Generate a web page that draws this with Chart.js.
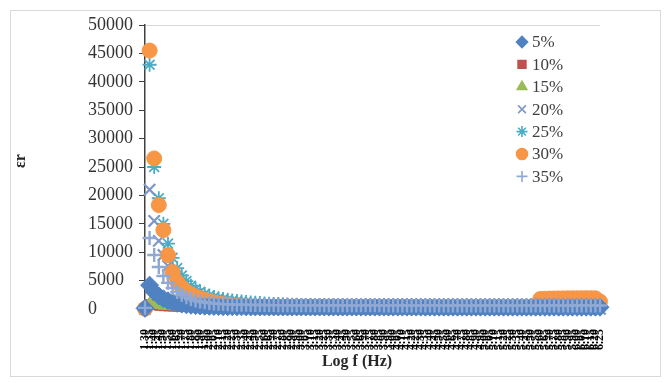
<!DOCTYPE html>
<html>
<head>
<meta charset="utf-8">
<script src="https://cdn.jsdelivr.net/npm/chart.js@4.4.1/dist/chart.umd.min.js"></script>
<style>
  html, body { margin: 0; padding: 0; background: #fff; }
  #wrap { position: relative; width: 670px; height: 383px; }
  #frame {
    position: absolute; left: 10px; top: 10px; width: 651px; height: 367px;
    border: 1px solid #d9d9d9; box-sizing: border-box; pointer-events: none;
  }
</style>
</head>
<body>
<div id="wrap">
  <canvas id="chart"></canvas>
  <div id="frame"></div>
</div>
<script>
// log f (Hz) categories
const freqLabels = [
  '1.30','1.35','1.40','1.45','1.50','1.55','1.60','1.65','1.70','1.75',
  '1.80','1.85','1.90','1.95','2.00','2.05','2.10','2.15','2.20','2.25',
  '2.30','2.35','2.40','2.45','2.50','2.55','2.60','2.65','2.70','2.75',
  '2.80','2.85','2.90','2.95','3.00','3.05','3.10','3.15','3.20','3.25',
  '3.30','3.35','3.40','3.45','3.50','3.55','3.60','3.65','3.70','3.75',
  '3.80','3.85','3.90','3.95','4.00','4.05','4.10','4.15','4.20','4.25',
  '4.30','4.35','4.40','4.45','4.50','4.55','4.60','4.65','4.70','4.75',
  '4.80','4.85','4.90','4.95','5.00','5.05','5.10','5.15','5.20','5.25',
  '5.30','5.35','5.40','5.45','5.50','5.55','5.60','5.65','5.70','5.75',
  '5.80','5.85','5.90','5.95','6.00','6.05','6.10','6.15','6.20','6.25'
];

// dielectric constant per doping level
const eps5 = [
  120, 4200, 3000, 2300, 1800, 1450, 1200, 1000, 860, 750,
  660, 590, 540, 500, 470, 445, 425, 410, 400, 390,
  385, 380, 375, 370, 368, 365, 362, 360, 358, 356,
  355, 353, 352, 350, 349, 348, 347, 346, 345, 344,
  343, 342, 341, 340, 340, 339, 338, 338, 337, 336,
  336, 335, 335, 334, 334, 333, 333, 332, 332, 331,
  331, 330, 330, 330, 329, 329, 328, 328, 328, 327,
  327, 327, 326, 326, 326, 325, 325, 325, 324, 324,
  324, 323, 323, 323, 322, 322, 322, 321, 321, 321,
  320, 320, 320, 319, 319, 319, 318, 318, 318, 317
];
const eps10 = [
  80, 900, 650, 520, 450, 410, 385, 370, 360, 352,
  347, 343, 340, 338, 336, 334, 333, 332, 331, 330,
  330, 329, 329, 328, 328, 327, 327, 326, 326, 325,
  325, 324, 324, 323, 323, 322, 322, 321, 321, 320,
  320, 320, 319, 319, 319, 318, 318, 318, 317, 317,
  317, 316, 316, 316, 315, 315, 315, 314, 314, 314,
  313, 313, 313, 312, 312, 312, 311, 311, 311, 310,
  310, 310, 309, 309, 309, 308, 308, 308, 307, 307,
  307, 306, 306, 306, 305, 305, 305, 304, 304, 304,
  303, 303, 303, 302, 302, 302, 301, 301, 301, 300
];
const eps15 = [
  60, 1100, 780, 600, 500, 440, 400, 375, 358, 346,
  338, 332, 327, 323, 320, 318, 316, 314, 312, 311,
  310, 310, 309, 309, 308, 308, 307, 307, 306, 306,
  306, 305, 305, 305, 304, 304, 304, 303, 303, 303,
  302, 302, 302, 301, 301, 301, 300, 300, 300, 299,
  299, 299, 298, 298, 298, 297, 297, 297, 296, 296,
  296, 295, 295, 295, 294, 294, 294, 293, 293, 293,
  292, 292, 292, 291, 291, 291, 290, 290, 290, 290,
  289, 289, 289, 288, 288, 288, 287, 287, 287, 286,
  286, 286, 285, 285, 285, 284, 284, 284, 283, 283
];
const eps20 = [
  0, 21000, 15500, 12000, 9500, 7600, 6200, 5100, 4200, 3500,
  2900, 2400, 2000, 1650, 1350, 1100, 900, 740, 610, 500,
  410, 340, 280, 230, 190, 160, 135, 115, 100, 90,
  80, 70, 65, 60, 55, 50, 48, 46, 44, 42,
  41, 40, 39, 38, 37, 36, 36, 35, 35, 34,
  34, 33, 33, 32, 32, 31, 31, 30, 30, 30,
  29, 29, 28, 28, 28, 27, 27, 27, 26, 26,
  26, 25, 25, 25, 24, 24, 24, 23, 23, 23,
  22, 22, 22, 21, 21, 21, 20, 20, 20, 20,
  19, 19, 19, 18, 18, 18, 17, 17, 17, 16
];
const eps25 = [
  80, 43000, 25000, 19500, 15000, 11500, 9000, 7200, 5900, 4900,
  4100, 3500, 3000, 2650, 2350, 2100, 1900, 1750, 1620, 1500,
  1400, 1310, 1230, 1160, 1100, 1040, 990, 940, 900, 860,
  830, 800, 770, 745, 720, 700, 680, 660, 645, 630,
  615, 600, 590, 580, 570, 560, 550, 540, 530, 520,
  515, 510, 505, 500, 495, 490, 485, 480, 478, 475,
  472, 470, 468, 465, 462, 460, 458, 455, 452, 450,
  448, 446, 444, 442, 440, 438, 436, 434, 432, 430,
  428, 426, 424, 422, 420, 418, 416, 414, 412, 410,
  408, 406, 404, 402, 400, 398, 396, 394, 392, 390
];
const eps30 = [
  60, 45500, 26500, 18300, 13900, 9500, 6500, 4800, 3800, 3100,
  2600, 2200, 1900, 1600, 1350, 1150, 980, 850, 750, 660,
  590, 530, 480, 440, 410, 390, 375, 365, 358, 352,
  350, 349, 348, 347, 346, 345, 344, 343, 342, 341,
  340, 340, 339, 338, 338, 337, 336, 336, 335, 335,
  334, 334, 333, 333, 332, 332, 331, 331, 330, 330,
  330, 329, 329, 328, 328, 328, 327, 327, 327, 326,
  326, 326, 325, 325, 325, 324, 324, 324, 323, 323,
  323, 323, 322, 322, 322, 330, 1750, 1800, 1830, 1850,
  1860, 1870, 1880, 1880, 1890, 1890, 1900, 1900, 1880, 1300
];
const eps35 = [
  200, 12500, 9500, 7400, 5800, 4600, 3700, 3000, 2450, 2050,
  1750, 1500, 1320, 1180, 1070, 980, 910, 860, 820, 790,
  770, 750, 735, 720, 710, 700, 695, 690, 685, 680,
  675, 670, 670, 665, 665, 660, 660, 655, 655, 655,
  650, 650, 648, 648, 645, 645, 645, 642, 642, 640,
  640, 640, 638, 638, 636, 636, 635, 635, 633, 633,
  632, 632, 630, 630, 630, 628, 628, 627, 627, 626,
  626, 625, 625, 624, 624, 623, 623, 622, 622, 621,
  621, 620, 620, 620, 619, 619, 618, 618, 617, 617,
  616, 616, 615, 615, 614, 614, 613, 613, 612, 610
];

const seriesNames = ['5%', '10%', '15%', '20%', '25%', '30%', '35%'];
const seriesValues = [eps5, eps10, eps15, eps20, eps25, eps30, eps35];

// marker look for each series
const markerColors = ['#5082C2', '#C0504D', '#9BBB59', '#7F97C6', '#4BACC6', '#F79646', '#8FA8D4'];
const markerStyles = ['rectRot', 'rect', 'triangle', 'crossRot', 'star', 'circle', 'cross'];
const markerRadius = [9, 6, 6, 8, 7, 7.5, 7];
const markerLine = [1, 1, 1, 2.2, 1.8, 1, 2.4];
// lower number is painted later (on top)
const paintOrder = [2, 7, 6, 5, 4, 3, 1];

const serif = "'Liberation Serif', 'Times New Roman', serif";

const datasets = seriesNames.map((name, k) => ({
  label: name,
  data: seriesValues[k],
  showLine: false,
  pointStyle: markerStyles[k],
  pointRadius: markerRadius[k],
  pointBorderWidth: markerLine[k],
  backgroundColor: markerColors[k],
  borderColor: markerColors[k],
  order: paintOrder[k],
  clip: false
}));

// legend drawn inside the plot, top right
const plotLegend = {
  id: 'plotLegend',
  afterDraw(chart) {
    const ctx = chart.ctx;
    ctx.save();
    chart.data.datasets.forEach((ds, k) => {
      const y = 42 + k * 22.4;
      ctx.fillStyle = ds.backgroundColor;
      ctx.strokeStyle = ds.borderColor;
      ctx.lineWidth = 1.6;
      Chart.helpers.drawPoint(ctx, {
        pointStyle: ds.pointStyle, radius: 5.5, borderWidth: 1.6, rotation: 0
      }, 522, y);
      ctx.fillStyle = '#404040';
      ctx.font = '17px ' + serif;
      ctx.textAlign = 'left';
      ctx.textBaseline = 'middle';
      ctx.fillText(ds.label, 532, y + 1);
    });
    ctx.restore();
  }
};

// axis captions
const axisCaptions = {
  id: 'axisCaptions',
  afterDraw(chart) {
    const ctx = chart.ctx;
    ctx.save();
    ctx.fillStyle = '#262626';
    ctx.font = 'bold 16px ' + serif;
    ctx.textAlign = 'center';
    ctx.textBaseline = 'middle';
    ctx.fillText('Log f (Hz)', 357, 362);
    ctx.translate(21, 161);
    ctx.rotate(-Math.PI / 2);
    ctx.fillText('εr', 0, 0);
    ctx.restore();
  }
};

new Chart(document.getElementById('chart'), {
  type: 'line',
  data: { labels: freqLabels, datasets: datasets },
  options: {
    responsive: true,
    maintainAspectRatio: false,
    animation: false,
    layout: { padding: { left: 88, top: 25, right: 70, bottom: 0 } },
    plugins: {
      legend: { display: false },
      tooltip: { enabled: false }
    },
    scales: {
      x: {
        grid: { display: false },
        border: { display: false },
        ticks: {
          autoSkip: false,
          minRotation: 90,
          maxRotation: 90,
          padding: 12,
          color: '#000',
          font: { family: serif, size: 12, weight: 'bold' }
        },
        afterFit(scale) { scale.height = 74; }
      },
      y: {
        min: 0,
        max: 50000,
        ticks: {
          stepSize: 5000,
          crossAlign: 'far',
          color: '#333',
          font: { family: serif, size: 18 },
          callback: (v) => String(v)
        },
        grid: {
          color: (c) => (c.tick && c.tick.value === 50000 ? '#d9d9d9' : 'rgba(0,0,0,0)'),
          tickColor: '#404040',
          tickLength: 6
        },
        border: { display: true, color: '#404040', width: 1.5 },
        afterFit(scale) { scale.width = 57; }
      }
    }
  },
  plugins: [plotLegend, axisCaptions]
});
</script>
</body>
</html>
